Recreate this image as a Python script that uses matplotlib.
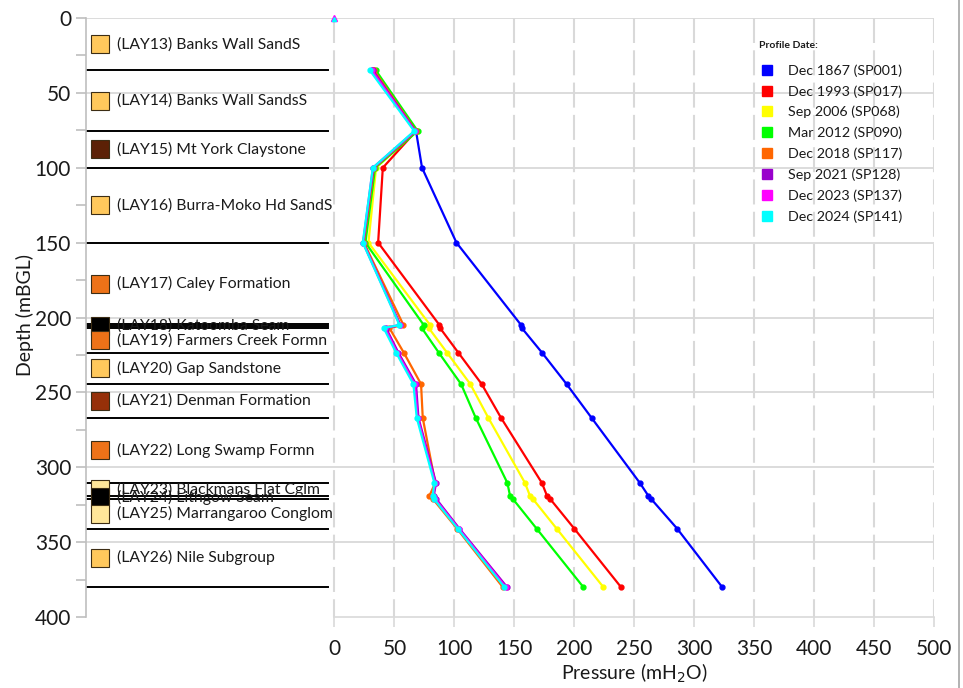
import numpy as np
import matplotlib
matplotlib.use("Agg")
from matplotlib import pyplot as plt
from matplotlib.lines import Line2D

plt.rcParams['font.family'] = ['Lato', 'DejaVu Sans']

# Data
#----------------------------------------------------

depths = [35, 75.5, 100, 150, 205, 207, 223.5, 244.5, 267, 310.5, 319, 321, 341, 380]

series_labels = ["Dec 1867 (SP001)", "Dec 1993 (SP017)", "Sep 2006 (SP068)", "Mar 2012 (SP090)",
                 "Dec 2018 (SP117)", "Sep 2021 (SP128)", "Dec 2023 (SP137)", "Dec 2024 (SP141)"]
series_colors = ["#0000ff", "#ff0000", "#ffff00", "#00ff00",
                 "#ff6600", "#9900cc", "#ff00ff", "#00ffff"]

p_sp001 = [31, 68, 73, 101.7, 155.6, 156.2, 173.1, 193.6, 214.4, 254.7, 261.7, 263.9, 285.8, 323.3]
p_sp017 = [32, 68, 40.3, 36.4, 87.5, 88, 103.3, 122.8, 138.9, 173, 177.2, 179.7, 200, 238.9]
p_sp068 = [33, 68.5, 34.7, 28.3, 79.7, 78.6, 93.9, 113.3, 128.3, 158.9, 163, 165.3, 185.3, 224.2]
p_sp090 = [34.5, 69.4, 33.9, 25.8, 74.4, 72.8, 87, 105.6, 117.8, 144.2, 146.4, 148.6, 168.6, 207.5]
p_sp117 = [33, 68, 33, 24.5, 57.5, 45.8, 57.8, 72.2, 73.6, 84, 79.2, 81.9, 102.2, 140.3]
p_sp128 = [32, 67.5, 32.5, 24, 55, 43, 53.3, 68, 70, 84.7, 82.8, 84.7, 104.2, 143.9]
p_sp137 = [31, 67, 32, 23.8, 54.5, 42, 52.3, 67, 69.3, 84, 82.3, 83.7, 103.5, 142.8]
p_sp141 = [29.5, 66.5, 32, 23.6, 54.2, 41, 51.4, 65.8, 68.6, 83.3, 81.9, 82.8, 102.8, 141.7]
pressures = [p_sp001, p_sp017, p_sp068, p_sp090, p_sp117, p_sp128, p_sp137, p_sp141]

layer_names = ["(LAY13) Banks Wall SandS", "(LAY14) Banks Wall SandsS", "(LAY15) Mt York Claystone",
               "(LAY16) Burra-Moko Hd SandS", "(LAY17) Caley Formation", "(LAY18) Katoomba Seam",
               "(LAY19) Farmers Creek Formn", "(LAY20) Gap Sandstone", "(LAY21) Denman Formation",
               "(LAY22) Long Swamp Formn", "(LAY23) Blackmans Flat Cglm", "(LAY24) Lithgow Seam",
               "(LAY25) Marrangaroo Conglom", "(LAY26) Nile Subgroup"]
layer_mid = [17.5, 55.25, 87.75, 125, 177.5, 205.7, 215.25, 234, 255.75, 288.75, 314.75, 320, 331, 360.5]
layer_colors = ["#ffc85c", "#ffc85c", "#5c2106", "#ffc85c", "#ed7218", "#000000",
                "#ed7218", "#ffc85c", "#963009", "#ed7218", "#ffe699", "#000000",
                "#ffe699", "#ffc85c"]
layer_bounds = [35, 75.5, 100, 150, 204.2, 205.6, 207, 223.5, 244.5, 267, 310.5, 319, 321, 341, 380]


# Figure
#----------------------------------------------------

fig = plt.figure(figsize=(9.63, 6.88), dpi=100)
ax = fig.add_axes([85.7/963, 1-617/688, (934-85.7)/963, (617-18)/688])
ax.set_xlim(-207.5, 500)
ax.set_ylim(400, 0)

grid = "#d9d9d9"
for y in range(0, 400, 50):
    ax.axhline(y, color=grid, lw=1.3, zorder=0)
for x in range(0, 501, 50):
    ax.plot([x, x], [0, 400], color=grid, lw=1.5, dashes=(12, 3.5), zorder=0)

# layer boundaries and labels
for b in layer_bounds:
    ax.plot([-207.5, -5], [b, b], color="black", lw=1.4, zorder=2)
for name, mid, col in zip(layer_names, layer_mid, layer_colors):
    ax.plot(-195.6, mid, marker="s", ms=13.5, mfc=col, mec="#3c2d14", mew=0.8, zorder=3)
    ax.text(-181.4, mid, name, fontsize=11.3, va="center", ha="left", color="#1a1a1a", zorder=3)

# pressure profiles
for p, col in zip(pressures, series_colors):
    ax.plot(p, depths, color=col, lw=1.6, marker="o", ms=3.5, zorder=4)

ax.plot(0, 0, marker="^", ms=5, color="#ff00ff", zorder=5, clip_on=False)
ax.plot(0, 0.8, marker="^", ms=3, color="#00ffff", zorder=6, clip_on=False)

# axes styling
for s in ["top", "right"]:
    ax.spines[s].set_visible(False)
ax.spines["left"].set_color("#bfbfbf")
ax.spines["bottom"].set_color("#d9d9d9")
ax.spines["bottom"].set_bounds(0, 500)
ax.spines["left"].set_linewidth(1.2)
ax.spines["bottom"].set_linewidth(1.2)

ax.set_yticks(range(0, 401, 50))
ax.set_yticks(range(25, 400, 50), minor=True)
ax.set_xticks(range(0, 501, 50))
ax.tick_params(axis="both", which="both", direction="out", length=7, color="#bfbfbf",
               labelsize=15, labelcolor="#1a1a1a", width=1.2)
ax.tick_params(axis="x", which="major", color="#d9d9d9", pad=9)

fig.text(634/963, 1-673/688, "Pressure (mH$_2$O)", ha="center", va="center", fontsize=14, color="#1a1a1a")
fig.text(25/963, 1-315/688, "Depth (mBGL)", ha="center", va="center", rotation=90, fontsize=14, color="#1a1a1a")

# legend
fig.text(759/963, 1-45/688, "Profile Date:", ha="left", va="center", fontsize=7.5,
         fontweight="bold", color="#1a1a1a")
handles = [Line2D([], [], ls="none", marker="s", ms=7, mfc=c, mec=c) for c in series_colors]
leg = ax.legend(handles, series_labels, loc="upper left", bbox_to_anchor=(753/963, 1-57/688),
                bbox_transform=fig.transFigure, frameon=False, fontsize=10.3,
                handlelength=1.0, handletextpad=0.95, labelspacing=0.58, borderpad=0)
for t in leg.get_texts():
    t.set_color("#1a1a1a")

# chart border
fig.add_artist(Line2D([959/963, 959/963], [0, 1], color="#a6a6a6", lw=1.2, transform=fig.transFigure))

fig.savefig("out.png", dpi=100)
